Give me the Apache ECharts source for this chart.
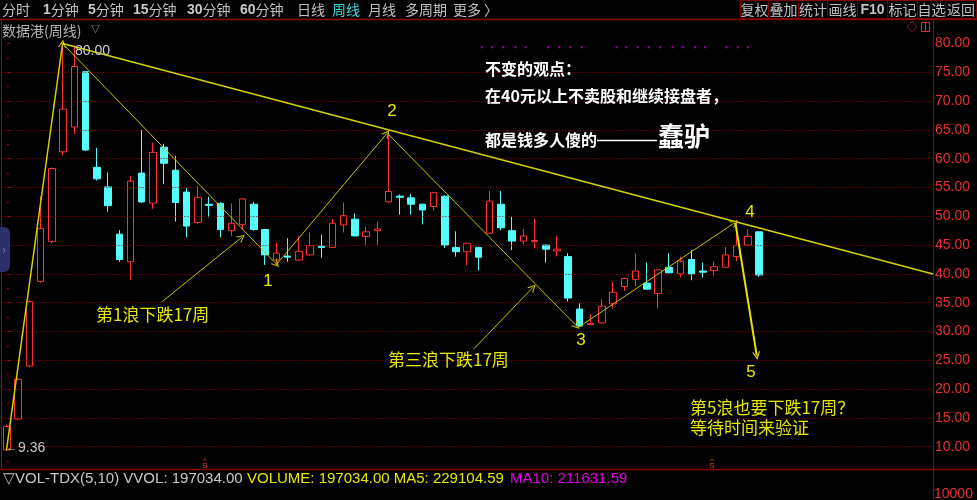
<!DOCTYPE html>
<html><head><meta charset="utf-8">
<script src="https://cdn.jsdelivr.net/npm/echarts@6/dist/echarts.min.js"></script>
<style>html,body{margin:0;padding:0;background:#000;}#c{width:977px;height:500px;}</style>
</head><body><div id="c"></div>
<script>
// ---- data ----
const weeks = Array.from({length: 83}, (_, i) => 'W' + (i + 1)); // 68 weeks of data + empty space on the right
const openP  = [9.45,14.8,24.0,38.7,45.6,61.2,65.5,75.1,58.5,55.1,46.9,42.1,57.5,52.3,62.0,58.0,54.2,48.9,52.1,52.25,47.5,48.6,52.1,47.7,42.4,43.1,42.4,43.3,44.8,44.6,48.5,49.5,46.5,47.5,52.5,53.5,53.2,52.1,51.7,53.5,44.6,43.85,44.6,47.05,52.1,47.5,45.7,45.6,45.0,44.0,43.0,33.9,31.2,31.5,34.8,37.8,39.05,38.4,36.6,41.15,40.0,42.5,40.5,40.55,41.15,43.0,45.0,47.3];
const closeP = [13.5,21.7,35.2,47.9,58.3,68.6,76.0,61.5,56.5,51.85,42.5,56.1,52.5,61.1,59.2,52.4,48.3,53.3,51.9,47.7,48.8,53.0,47.7,43.3,43.6,42.9,43.9,44.9,44.6,48.8,50.1,46.6,47.3,47.8,54.3,53.3,52.1,51.1,54.1,45.0,43.85,45.3,42.9,52.65,48.0,45.7,46.6,45.8,44.3,44.3,35.8,30.95,31.4,34.4,36.8,39.2,40.5,37.35,40.7,40.2,42.2,40.0,40.3,41.25,43.3,44.9,46.5,39.8];
const lowP   = [9.36,14.7,23.8,38.5,45.3,60.6,64.3,61.4,56.2,50.8,42.1,38.9,52.3,51.3,55.6,49.1,46.35,48.7,49.8,46.35,46.6,47.7,47.5,41.55,41.55,42.1,42.3,43.2,42.8,44.5,47.2,46.5,45.0,45.0,52.4,50.3,50.3,48.6,51.0,44.5,43.0,41.5,40.6,47.0,47.6,44.15,45.1,44.4,41.95,43.0,35.2,30.85,31.1,31.4,34.0,37.0,37.9,37.3,34.0,40.1,39.4,38.9,39.4,39.7,41.0,42.2,44.9,39.5];
const highP  = [13.8,22.0,35.5,53.5,58.5,80.0,79.7,75.2,61.9,57.6,47.6,57.0,65.0,62.8,62.6,60.5,54.9,55.3,53.4,52.4,52.25,53.1,52.5,47.8,45.4,46.2,46.5,47.2,46.8,49.5,52.4,50.5,48.2,49.1,64.4,53.8,53.9,52.2,54.2,53.6,47.4,45.4,44.7,54.4,54.4,49.9,47.8,49.65,45.1,46.6,43.6,34.9,33.0,35.6,38.65,39.3,43.6,42.0,40.8,43.6,43.0,44.15,41.95,42.15,44.7,49.4,47.75,47.4];
const gridLevels = [10,15,20,25,30,35,40,45,50,55,60,65,70,75];
const axisMin = 5, axisMax = 85, axisStep = 5;
// magenta signal dots (week position) and their level
const signalWeeks = [42.3,43.2,44.2,45.3,46.2,48.2,49.2,50.2,51.2,54.3,55.2,56.2,57.2,58.2,59.3,60.2,61.3,62.2,64.1,65.1,66.0];
const signalLevel = 79.35;
// drawn trend lines: [week, price] pairs
const riseLine    = [[-0.05, 9.36], [4.95, 80]];
const topLine     = [[4.95, 80], [82.5, 40.0]];
const waveLines   = [
  [[4.95, 80], [24.0, 41.7]],
  [[24.0, 41.6], [33.85, 64.4]],
  [[33.9, 64.4], [50.75, 30.95]],
  [[51.0, 30.85], [64.85, 48.9]]
];
const wave5Line   = [[64.9, 48.8], [66.8, 25.8]];
const noteArrows  = [
  [[13.81, 35.17], [20.91, 46.35]],
  [[41.6, 27.0], [46.86, 37.67]]
];

// ---- chart ----
const ohlc = openP.map((o, i) => [o, closeP[i], lowP[i], highP[i]]);
const UP = '#ff3232', DN = '#54fcfc', YEL = '#e6e600';
const F_CJK = '"Noto Sans CJK SC", sans-serif';
const F_LAT = '"Liberation Sans", Arial, sans-serif';
const chevron = 'path://M0,10 L5,0 L10,10 L8.6,10 L5,3 L1.4,10 Z';

function segStyled(pair, color, width, arrow) {
  const ls = { color, width, type: 'solid' };
  return [
    { coord: pair[0], symbol: 'none', lineStyle: ls },
    { coord: pair[1], symbol: arrow ? chevron : 'none', symbolSize: [8, 8], lineStyle: ls }
  ];
}
const lineData = [];
gridLevels.forEach(v => lineData.push({ yAxis: v, symbol: 'none', lineStyle: { color: '#a00000', width: 1, type: [1, 2] } }));
lineData.push(segStyled(riseLine, '#d2d200', 1.5, true));
lineData.push(segStyled(topLine, '#d2d200', 1.5, false));
waveLines.forEach(p => lineData.push(segStyled(p, '#c4c400', 1, true)));
lineData.push(segStyled(wave5Line, '#e6e600', 2, true));
noteArrows.forEach(p => lineData.push(segStyled(p, '#c4c400', 1, true)));

function txt(x, y, text, fill, size, o) {
  o = o || {};
  const al = o.align || 'left';
  return { type: 'text', x, y, z: 100, silent: true,
    style: Object.assign({ text, fill,
      font: (o.bold ? 'bold ' : '') + size + 'px ' + (o.font || F_CJK),
      align: al, verticalAlign: 'middle', textAlign: al, textVerticalAlign: 'middle' }, o.style || {}) };
}
function ln(x1, y1, x2, y2, stroke, w, z) {
  return { type: 'line', z: z || 95, silent: true, shape: { x1, y1, x2, y2 }, style: { stroke, lineWidth: w || 1 } };
}
function rect(x, y, w, h, style, z, r) {
  return { type: 'rect', z: z || 90, silent: true, shape: { x, y, width: w, height: h, r: r || 0 }, style };
}

const G = [];
// header covers
G.push(rect(0, 0, 977, 19, { fill: '#000' }, 90));
G.push(rect(934, 469, 43, 31, { fill: '#000' }, 90));
G.push(rect(0, 470, 933, 30, { fill: '#000' }, 90));
// menu
const richStyle = { b: { font: 'bold 14px ' + F_LAT, fill: '#c8c8c8' } };
const menu = [['分时', 2], ['{b|1}分钟', 43], ['{b|5}分钟', 88], ['{b|15}分钟', 133], ['{b|30}分钟', 187],
  ['{b|60}分钟', 240], ['日线', 297], ['周线', 332], ['月线', 368], ['多周期', 405], ['更多', 453], ['〉', 484]];
menu.forEach(m => G.push(txt(m[1], 10, m[0], m[0] === '周线' ? '#3cd6d6' : '#c0c0c0', 14, { style: { rich: richStyle } })));
const btnX = [740, 768, 798, 827, 857, 887, 917, 945, 976];
const btns = ['复权', '叠加', '统计', '画线', 'F10', '标记', '自选', '返回'];
btns.forEach((b, i) => {
  G.push(rect(btnX[i] + 0.5, 0.5, btnX[i + 1] - btnX[i], 18, { fill: 'none', stroke: '#7a0000', lineWidth: 1 }, 96));
  G.push(txt((btnX[i] + btnX[i + 1]) / 2 + 0.5, 10, b, '#c0c0c0', 14,
    { align: 'center', bold: b === 'F10', font: b === 'F10' ? F_LAT : F_CJK }));
});
G.push(ln(0, 19.5, 977, 19.5, '#8a0000', 1.5));
G.push(ln(933.5, 19, 933.5, 500, '#a00000', 1));
G.push(ln(0, 469.5, 977, 469.5, '#8a0000', 1.5));
G.push(ln(1.5, 20, 1.5, 469, '#2e2e4e', 1));
// title
G.push(txt(2, 31, '数据港(周线)', '#b4b4b4', 14));
G.push(txt(91, 29, '▽', '#b4b4b4', 9));
// top right icons
G.push(txt(912, 27, '◇', '#e03030', 11, { align: 'center' }));
G.push(rect(921.5, 22.5, 8, 9, { fill: 'none', stroke: '#e03030', lineWidth: 1 }, 96));
G.push(ln(925.5, 23, 925.5, 31, '#e03030', 1));
// left tab
G.push(rect(-6, 227, 16, 45, { fill: '#2b3066' }, 96, 6));
G.push(txt(4, 249, '›', '#7a80b8', 12, { align: 'center' }));
// price notes
G.push(txt(75, 51, '80.00', '#d0d0d0', 14, { font: F_LAT }));
G.push(txt(6, 448, '←', '#c8c8c8', 11, { font: F_LAT }));
G.push(txt(18, 448, '9.36', '#c8c8c8', 14, { font: F_LAT }));
// yellow annotations
G.push(txt(96, 315, '第1浪下跌17周', YEL, 17));
G.push(txt(388, 360, '第三浪下跌17周', YEL, 17));
G.push(txt(690, 408, '第5浪也要下跌17周？', YEL, 17));
G.push(txt(690, 428, '等待时间来验证', YEL, 17));
[['1', 268, 281], ['2', 392, 111], ['3', 581, 340], ['4', 750, 212], ['5', 751, 372]].forEach(n =>
  G.push(txt(n[1], n[2], n[0], YEL, 17, { align: 'center', font: F_LAT })));
// white opinion text
G.push(txt(485, 68.5, '不变的观点：', '#ffffff', 16, { bold: true }));
G.push(txt(485, 96, '在40元以上不卖股和继续接盘者，', '#ffffff', 16, { bold: true }));
G.push(txt(485, 140, '都是钱多人傻的', '#ffffff', 16, { bold: true }));
G.push(ln(597, 140.5, 657, 140.5, '#ffffff', 1.5, 100));
G.push(txt(658, 136, '蠢驴', '#ffffff', 26, { bold: true }));
// S markers
[205, 712].forEach(x => { G.push(txt(x, 461, '^', UP, 8, { align: 'center', font: F_LAT })); G.push(txt(x, 466, 'S', UP, 8, { align: 'center', font: F_LAT })); });
// volume header
G.push(txt(3, 479, '▽VOL-TDX(5,10) VVOL: 197034.00', '#c8c8c8', 15, { font: F_LAT }));
G.push(txt(247, 479, 'VOLUME: 197034.00 MA5: 229104.59', '#e6e600', 15, { font: F_LAT }));
G.push(txt(510, 479, 'MA10: 211631.59', '#e000e0', 15, { font: F_LAT }));
G.push(txt(934, 494, '10000', '#e83030', 14, { font: F_LAT }));

const chart = echarts.init(document.getElementById('c'), null, { renderer: 'canvas' });
chart.setOption({
  backgroundColor: '#000',
  animation: false,
  grid: { left: 1.4, right: 44, top: 14.7, bottom: 24.5 },
  xAxis: [
    { type: 'category', data: weeks, boundaryGap: true, show: false },
    { type: 'value', min: -0.5, max: weeks.length - 0.5, show: false }
  ],
  yAxis: {
    type: 'value', position: 'right', min: axisMin, max: axisMax, interval: axisStep, scale: false,
    axisLine: { show: false },
    axisTick: { show: true, length: 3, lineStyle: { color: '#c00000' } },
    minorTick: { show: true, splitNumber: 2, length: 2, lineStyle: { color: '#c00000' } },
    splitLine: { show: false },
    axisLabel: { showMinLabel: false, showMaxLabel: false, color: '#e83030', margin: 2,
      fontFamily: 'Liberation Sans', fontSize: 14, formatter: v => v.toFixed(2) }
  },
  graphic: { elements: G },
  series: [
    {
      type: 'candlestick', xAxisIndex: 0, data: ohlc, barWidth: 7,
      itemStyle: { color: '#000', color0: DN, borderColor: UP, borderColor0: DN, borderWidth: 1 },
      z: 3
    },
    {
      type: 'scatter', xAxisIndex: 1, symbol: 'rect', symbolSize: 2,
      itemStyle: { color: '#d000d0' },
      data: signalWeeks.map(w => [w, signalLevel]),
      markLine: {
        silent: true, label: { show: false }, animation: false,
        symbol: 'none',
        data: lineData
      },
      z: 5
    }
  ]
});
</script></body></html>
